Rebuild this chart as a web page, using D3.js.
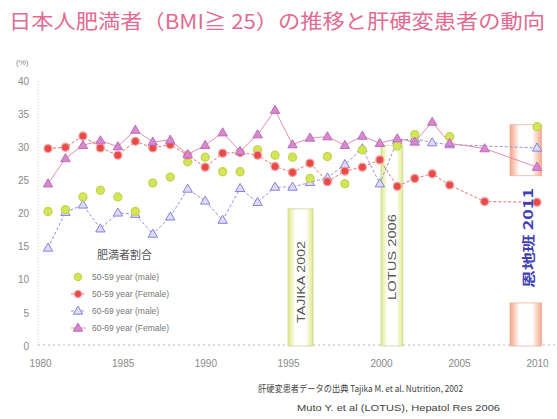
<!DOCTYPE html>
<html>
<head>
<meta charset="utf-8">
<script src="https://cdn.jsdelivr.net/npm/d3@7"></script>
<style>
  body { margin: 0; background: #fff; }
  svg { display: block; }
</style>
</head>
<body>
<svg id="chart" width="557" height="419"></svg>
<script>
// ---- data ----
const years = [1980,1981,1982,1983,1984,1985,1986,1987,1988,1989,1990,1991,1992,1993,1994,1995,1996,1997,1998,1999,2000,2001,2002,2003,2005,2008];
const male5059   = [20.3,20.6,22.5,23.5,22.5,20.3,24.6,25.5,27.8,28.5,26.3,26.3,29.6,28.8,28.5,25.3,28.6,24.5,29.6,null,30.2,31.9,null,31.6,null,33.1];
const female5059 = [29.8,30.0,31.7,29.9,28.8,30.9,29.9,30.4,28.8,27.0,29.1,29.2,28.8,27.1,26.2,27.6,24.8,26.4,27.0,28.1,24.1,25.3,26.0,24.3,21.8,21.7];
const male6069   = [14.8,20.2,21.3,17.7,20.1,19.9,16.9,19.5,23.7,21.9,19.0,23.8,21.7,24.0,24.0,24.7,25.4,27.4,29.8,24.5,31.0,31.3,30.7,30.4,null,29.9];
const female6069 = [24.5,28.3,30.3,31.0,30.1,32.6,30.8,31.1,28.9,30.3,32.2,29.4,31.9,35.6,30.4,31.4,31.6,30.3,31.7,30.6,31.3,30.8,33.8,30.6,29.8,27.0];
const seriesLabels = ["50-59 year (male)", "50-59 year (Female)", "60-69 year (male)", "60-69 year (Female)"];
const yTicks = [0,5,10,15,20,25,30,35,40];
const xTickYears = [1980,1985,1990,1995,2000,2005,2010];
const studyLabels = ["TAJIKA 2002", "LOTUS 2006", "恩地班 2011"];
const studyFrom = [1995, 2000, 2008.27];
const studyTo   = [1996.35, 2001.4, 2010.3];
const studyTop  = [20.7, 30.3, 33.4];

const titleText = "日本人肥満者（BMI≧ 25）の推移と肝硬変患者の動向";
const legendTitle = "肥満者割合";
const sourceLines = ["肝硬変患者データの出典 Tajika M. et al. Nutrition, 2002",
                     "Muto Y. et al (LOTUS), Hepatol Res 2006"];

// ---- setup ----
const svg = d3.select("#chart");
const sans = "'Liberation Sans', Arial, sans-serif";
const cjk = "'Noto Sans CJK JP', 'Noto Sans', sans-serif";

const x = d3.scaleLinear().domain([1980, 2008]).range([48, 537]);
const xLab = d3.scaleLinear().domain([1980, 1995, 2000, 2010]).range([40, 288, 381, 537]);
const y = d3.scaleLinear().domain([0, 40]).range([346, 81]);

const defs = svg.append("defs");
function barGradient(id, edge) {
  const g = defs.append("linearGradient").attr("id", id).attr("x1", 0).attr("x2", 1).attr("y1", 0).attr("y2", 0);
  g.append("stop").attr("offset", "0%").attr("stop-color", edge);
  g.append("stop").attr("offset", "30%").attr("stop-color", "#fff");
  g.append("stop").attr("offset", "70%").attr("stop-color", "#fff");
  g.append("stop").attr("offset", "100%").attr("stop-color", edge);
}
barGradient("gGreen", "#dfe985");
barGradient("gOrange", "#f2a688");

// title
svg.append("text")
  .attr("x", 9).attr("y", 29)
  .attr("font-family", cjk).attr("font-size", 20)
  .attr("fill", "#e36a90")
  .attr("textLength", 536).attr("lengthAdjust", "spacingAndGlyphs")
  .text(titleText);

// axes frame (dotted)
svg.append("line").attr("x1", 38).attr("x2", 38).attr("y1", y(40)).attr("y2", y(0))
  .attr("stroke", "#c8c8c8").attr("stroke-dasharray", "1,2");
svg.append("line").attr("x1", 38).attr("x2", 557).attr("y1", y(0) - 1).attr("y2", y(0) - 1)
  .attr("stroke", "#b8b8b8").attr("stroke-dasharray", "2,3");

// y axis labels
const yAxis = svg.append("g").attr("transform", "translate(29,0)")
  .call(d3.axisLeft(y).tickValues(yTicks).tickSize(0).tickPadding(0));
yAxis.select(".domain").remove();
yAxis.selectAll("text").attr("font-family", sans).attr("font-size", 10).attr("fill", "#8a8a8a");

svg.append("text").attr("x", 16).attr("y", 65)
  .attr("font-family", sans).attr("font-size", 8).attr("fill", "#8a8a8a").text("(%)");

// x axis labels
const xAxis = svg.append("g").attr("transform", "translate(0,360)")
  .call(d3.axisBottom(xLab).tickValues(xTickYears).tickFormat(d3.format("d")).tickSize(0).tickPadding(0));
xAxis.select(".domain").remove();
xAxis.selectAll("text").attr("font-family", sans).attr("font-size", 10).attr("fill", "#8a8a8a");

// study period bars
const studies = studyLabels.map((label, i) => ({label, from: studyFrom[i], to: studyTo[i], top: studyTop[i], i}));
studies.forEach(s => {
  const x0 = xLab(s.from), x1 = xLab(s.to);
  const fill = s.i === 2 ? "url(#gOrange)" : "url(#gGreen)";
  const stroke = s.i === 2 ? "#eab59c" : "#cdd49a";
  if (s.i === 2) {
    // interrupted bar around the label
    svg.append("rect").attr("x", x0).attr("y", y(s.top)).attr("width", x1 - x0).attr("height", y(25.7) - y(s.top))
      .attr("fill", fill).attr("stroke", stroke).attr("stroke-width", 0.8);
    svg.append("rect").attr("x", x0).attr("y", y(6.5)).attr("width", x1 - x0).attr("height", y(0) - y(6.5))
      .attr("fill", fill).attr("stroke", stroke).attr("stroke-width", 0.8);
  } else {
    svg.append("rect").attr("x", x0).attr("y", y(s.top)).attr("width", x1 - x0).attr("height", y(0) - y(s.top))
      .attr("fill", fill).attr("stroke", stroke).attr("stroke-width", 0.8);
  }
});

// series
const series = [
  {name: seriesLabels[0], values: male5059,   shape: "circle",   fill: "#d4e55a", stroke: "#c3d54a", line: null},
  {name: seriesLabels[1], values: female5059, shape: "circle",   fill: "#e84a48", stroke: "#f4a3a3", line: {color: "#ea6f6f", dash: "3,2"}},
  {name: seriesLabels[2], values: male6069,   shape: "triangle", fill: "#dedcf8", stroke: "#8582da", line: {color: "#9490e0", dash: "3,2"}},
  {name: seriesLabels[3], values: female6069, shape: "triangle", fill: "#d48ad0", stroke: "#c268b8", line: {color: "#ec8cae", dash: null}}
];

const triPath = d3.symbol().type(d3.symbolTriangle).size(38);

series.forEach(s => {
  const pts = years.map((yr, i) => ({yr, v: s.values[i]})).filter(d => d.v != null);
  if (s.line) {
    svg.append("path").datum(pts)
      .attr("d", d3.line().x(d => x(d.yr)).y(d => y(d.v)))
      .attr("fill", "none").attr("stroke", s.line.color).attr("stroke-width", 1)
      .attr("stroke-dasharray", s.line.dash);
  }
});

// markers, layered so the later series sit on top
[series[2], series[0], series[1], series[3]].forEach(s => {
  const pts = years.map((yr, i) => ({yr, v: s.values[i]})).filter(d => d.v != null);
  const g = svg.append("g");
  if (s.shape === "circle") {
    g.selectAll("circle").data(pts).join("circle")
      .attr("cx", d => x(d.yr)).attr("cy", d => y(d.v)).attr("r", 4)
      .attr("fill", s.fill).attr("stroke", s.stroke).attr("stroke-width", 1.3);
  } else {
    g.selectAll("path").data(pts).join("path")
      .attr("transform", d => `translate(${x(d.yr)},${y(d.v) + 0.5})`)
      .attr("d", triPath)
      .attr("fill", s.fill).attr("stroke", s.stroke).attr("stroke-width", 1);
  }
});

// study labels (vertical)
studies.forEach(s => {
  const cx = (xLab(s.from) + xLab(s.to)) / 2;
  const isLast = s.i === 2;
  const cy = isLast ? 238 : (s.i === 0 ? 282 : 257);
  svg.append("text")
    .attr("transform", `translate(${cx + (isLast ? 7 : 4)},${cy}) rotate(-90)`)
    .attr("text-anchor", "middle")
    .attr("font-family", isLast ? cjk : sans)
    .attr("font-size", isLast ? 13 : 11)
    .attr("font-weight", isLast ? "bold" : "normal")
    .attr("fill", isLast ? "#4040b2" : "#555")
    .attr("textLength", isLast ? 100 : (s.i === 0 ? 82 : 86))
    .attr("lengthAdjust", "spacingAndGlyphs")
    .text(s.label);
});

// legend
const legend = svg.append("g");
legend.append("text").attr("x", 97).attr("y", 259)
  .attr("font-family", cjk).attr("font-size", 11).attr("fill", "#555").text(legendTitle);
const legendY = [277, 294, 311, 328];
series.forEach((s, i) => {
  const ly = legendY[i];
  if (s.line) {
    legend.append("line").attr("x1", 71).attr("x2", 86).attr("y1", ly).attr("y2", ly)
      .attr("stroke", s.line.color).attr("stroke-width", 1).attr("stroke-dasharray", s.line.dash);
  }
  if (s.shape === "circle") {
    legend.append("circle").attr("cx", 78).attr("cy", ly).attr("r", 3.6)
      .attr("fill", s.fill).attr("stroke", s.stroke).attr("stroke-width", 1.2);
  } else {
    legend.append("path").attr("transform", `translate(78,${ly + 0.5})`).attr("d", triPath)
      .attr("fill", s.fill).attr("stroke", s.stroke).attr("stroke-width", 1);
  }
  legend.append("text").attr("x", 92).attr("y", ly + 3)
    .attr("font-family", sans).attr("font-size", 8.5).attr("fill", "#777").text(s.name);
});

// source notes
svg.append("text").attr("x", 258).attr("y", 392)
  .attr("font-family", cjk).attr("font-size", 9).attr("fill", "#444")
  .attr("textLength", 205).attr("lengthAdjust", "spacingAndGlyphs")
  .text(sourceLines[0]);
svg.append("text").attr("x", 297).attr("y", 411)
  .attr("font-family", sans).attr("font-size", 9).attr("fill", "#444")
  .attr("textLength", 203).attr("lengthAdjust", "spacingAndGlyphs")
  .text(sourceLines[1]);
</script>
</body>
</html>
